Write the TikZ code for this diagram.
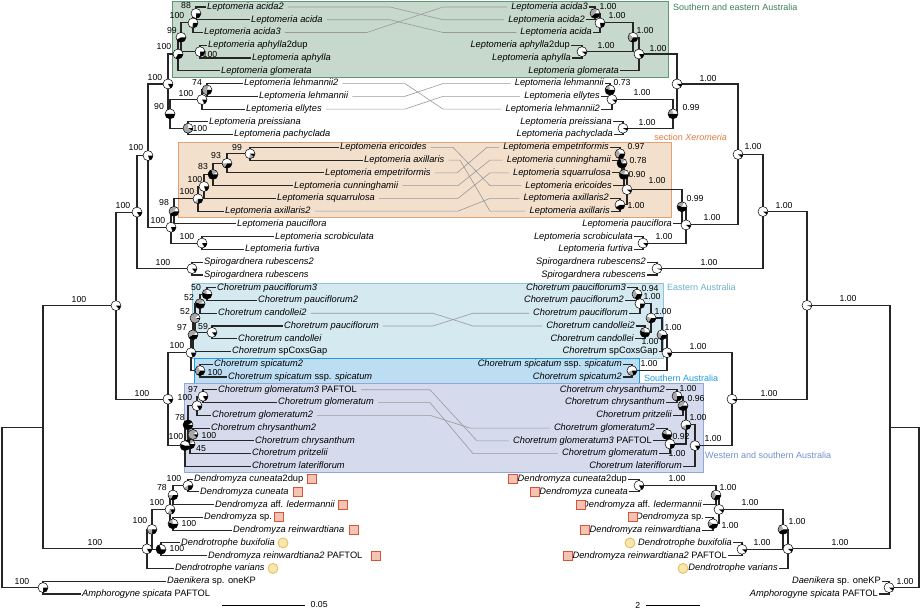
\documentclass[tikz,border=0pt]{standalone}
\usepackage{fontspec}
\setmainfont{Liberation Sans}
\usetikzlibrary{positioning}
\usetikzlibrary{arrows.meta}

\definecolor{segreen}{HTML}{C7D9CC}
\definecolor{segreenline}{HTML}{5E9870}
\definecolor{segreentext}{HTML}{3F7F55}
\definecolor{xerofill}{HTML}{F2E0CD}
\definecolor{xeroline}{HTML}{E2A173}
\definecolor{xerotext}{HTML}{E07C40}
\definecolor{eastfill}{HTML}{D5E9F0}
\definecolor{eastline}{HTML}{8CC6DC}
\definecolor{easttext}{HTML}{6BB1CE}
\definecolor{southfill}{HTML}{BDDDF3}
\definecolor{southline}{HTML}{1E9BE0}
\definecolor{westfill}{HTML}{D5DBEC}
\definecolor{westline}{HTML}{90A8D6}
\definecolor{westtext}{HTML}{7091CA}
\definecolor{dmzfill}{HTML}{F3C4B4}
\definecolor{dmzline}{HTML}{D6553A}
\definecolor{dtrfill}{HTML}{F8E5B4}
\definecolor{dtrline}{HTML}{E7BC4C}
\definecolor{piegray}{HTML}{A8A8A8}

% pie at a named coordinate: black degrees, gray degrees
\newcommand{\piemark}[3]{%
  \fill[white] (#1) circle[radius=5];
  \fill[black] (#1) -- ++(0:5) arc[start angle=0, end angle=#2, radius=5] -- cycle;
  \fill[piegray] (#1) -- ++(#2:5) arc[start angle=#2, end angle=#2+#3, radius=5] -- cycle;
  \draw[line width=0.5pt] (#1) circle[radius=5];}
% gray line between the two trees
\newcommand{\tangleline}[4]{%
  \draw[tangle] ([xshift=3pt]#1.east) -- (#1.east -| #3,0) -- (#2.west -| #4,0) -- ([xshift=-3pt]#2.west);}

\begin{document}
\begin{tikzpicture}[
        x=1pt, y=-1pt,
        leafL/.style={font=\fontsize{9.3}{11}\selectfont\itshape, inner sep=1pt, anchor=west, text height=6.8pt, text depth=2pt},
        leafR/.style={leafL, anchor=east},
        bs/.style={font=\fontsize{8.7}{10}\selectfont, inner sep=0.5pt},
        branch/.style={line width=1.1pt, black!85},
        tangle/.style={line width=0.6pt, black!40},
        region/.style={line width=0.8pt},
        regionlabel/.style={font=\fontsize{9}{11}\selectfont, anchor=west, inner sep=0pt},
        dmz/.style={rectangle, draw=dmzline, fill=dmzfill, minimum size=9pt, inner sep=0pt, line width=0.8pt},
        dtr/.style={circle, draw=dtrline, fill=dtrfill, minimum size=10pt, inner sep=0pt, line width=0.8pt},
        scalebar/.style={line width=0.8pt}
    ]
        \useasboundingbox (0,0) rectangle (922,609);

        % Regions
        \draw[region, fill=segreen, draw=segreenline] (172,1) rectangle (668,77);
        \draw[region, fill=xerofill, draw=xeroline] (178,142) rectangle (671,217);
        \draw[region, fill=eastfill, draw=eastline] (192,283) rectangle (663,358);
        \draw[region, fill=southfill, draw=southline] (194,358) rectangle (639,383);
        \draw[region, fill=westfill, draw=westline] (184,383) rectangle (703,472);
        \node[regionlabel, text=segreentext] (se) at (673,7) {Southern and eastern Australia};
        \node[regionlabel, text=xerotext, anchor=east] (xero) at (727,137) {section \textit{Xeromeria}};
        \node[regionlabel, text=easttext] (ea) at (667,287) {Eastern Australia};
        \node[regionlabel, text=southline] (sa) at (644,378) {Southern Australia};
        \node[regionlabel, text=westtext] (wsa) at (705,455) {Western and southern Australia};

        % Left tree: leaves
        \foreach \i/\x/\t in {0/206/Leptomeria acida2, 1/250/Leptomeria acida, 2/203/Leptomeria acida3,
            3/207/{Leptomeria aphylla\textup{2dup}}, 4/251/Leptomeria aphylla, 5/220/Leptomeria glomerata,
            6/243/Leptomeria lehmannii2, 7/258/Leptomeria lehmannii, 8/245/Leptomeria ellytes,
            9/208/Leptomeria preissiana, 10/233/Leptomeria pachyclada, 11/339/Leptomeria ericoides,
            12/363/Leptomeria axillaris, 13/324/Leptomeria empetriformis, 14/293/Leptomeria cunninghamii,
            15/276/Leptomeria squarrulosa, 16/224/Leptomeria axillaris2, 17/236/Leptomeria pauciflora,
            18/274/Leptomeria scrobiculata, 19/244/Leptomeria furtiva, 20/203/Spirogardnera rubescens2,
            21/203/Spirogardnera rubescens, 22/216/Choretrum pauciflorum3, 23/257/Choretrum pauciflorum2,
            24/217/Choretrum candollei2, 25/283/Choretrum pauciflorum, 26/237/Choretrum candollei,
            27/231/{Choretrum \textup{spCoxsGap}}, 28/213/Choretrum spicatum2,
            29/227/{Choretrum spicatum \textup{ssp.} spicatum}, 30/217/{Choretrum glomeratum3 \textup{PAFTOL}},
            31/277/Choretrum glomeratum, 32/211/Choretrum glomeratum2, 33/210/Choretrum chrysanthum2,
            34/254/Choretrum chrysanthum, 35/251/Choretrum pritzelii, 36/251/Choretrum lateriflorum,
            37/193/{Dendromyza cuneata\textup{2dup}}, 38/199/Dendromyza cuneata,
            39/214/{Dendromyza \textup{aff.} ledermannii}, 40/203/{Dendromyza \textup{sp.}},
            41/232/Dendromyza reinwardtiana, 42/180/Dendrotrophe buxifolia,
            43/207/{Dendromyza reinwardtiana2 \textup{PAFTOL}}, 44/174/Dendrotrophe varians,
            45/166/{Daenikera \textup{sp. oneKP}}, 46/81/{Amphorogyne spicata \textup{PAFTOL}}}
            \node[leafL] (L\i) at (\x,{7+12.76*\i}) {\t};

        % Right tree: leaves
        \foreach \i/\x/\t in {0/589/Leptomeria acida3, 1/586/Leptomeria acida2, 2/593/Leptomeria acida,
            3/571/{Leptomeria aphylla\textup{2dup}}, 4/572/Leptomeria aphylla, 5/620/Leptomeria glomerata,
            6/605/Leptomeria lehmannii, 7/601/Leptomeria ellytes, 8/601/Leptomeria lehmannii2,
            9/613/Leptomeria preissiana, 10/614/Leptomeria pachyclada, 11/610/Leptomeria empetriformis,
            12/612/Leptomeria cunninghamii, 13/612/Leptomeria squarrulosa, 14/613/Leptomeria ericoides,
            15/610/Leptomeria axillaris2, 16/611/Leptomeria axillaris, 17/673/Leptomeria pauciflora,
            18/634/Leptomeria scrobiculata, 19/634/Leptomeria furtiva, 20/647/Spirogardnera rubescens2,
            21/647/Spirogardnera rubescens, 22/627/Choretrum pauciflorum3, 23/625/Choretrum pauciflorum2,
            24/629/Choretrum pauciflorum, 25/636/Choretrum candollei2, 26/635/Choretrum candollei,
            27/659/{Choretrum \textup{spCoxsGap}}, 28/623/{Choretrum spicatum \textup{ssp.} spicatum},
            29/623/Choretrum spicatum2, 30/666/Choretrum chrysanthum2, 31/666/Choretrum chrysanthum,
            32/673/Choretrum pritzelii, 33/656/Choretrum glomeratum2, 34/653/{Choretrum glomeratum3 \textup{PAFTOL}},
            35/659/Choretrum glomeratum, 36/683/Choretrum lateriflorum,
            37/628/{Dendromyza cuneata\textup{2dup}}, 38/629/Dendromyza cuneata,
            39/703/{Dendromyza \textup{aff.} ledermannii}, 40/705/{Dendromyza \textup{sp.}},
            41/702/Dendromyza reinwardtiana, 42/733/Dendrotrophe buxifolia,
            43/728/{Dendromyza reinwardtiana2 \textup{PAFTOL}}, 44/779/Dendrotrophe varians,
            45/882/{Daenikera \textup{sp. oneKP}}, 46/879/{Amphorogyne spicata \textup{PAFTOL}}}
            \node[leafR] (R\i) at (\x,{7+12.76*\i}) {\t};

        % Tanglegram links
        \tangleline{L0}{R1}{390}{443}
        \tangleline{L1}{R2}{390}{443}
        \tangleline{L2}{R0}{367}{443}
        \tangleline{L6}{R8}{405}{443}
        \tangleline{L7}{R6}{405}{443}
        \tangleline{L8}{R7}{405}{443}
        \tangleline{L11}{R14}{453}{490}
        \tangleline{L12}{R16}{460}{490}
        \tangleline{L13}{R11}{457}{487}
        \tangleline{L14}{R12}{458}{490}
        \tangleline{L15}{R13}{458}{490}
        \tangleline{L16}{R15}{458}{490}
        \tangleline{L24}{R25}{433}{473}
        \tangleline{L25}{R24}{433}{473}
        \tangleline{L30}{R34}{430}{477}
        \tangleline{L31}{R35}{430}{473}
        \tangleline{L32}{R33}{430}{470}

        % Left tree: inner nodes
        \foreach \n/\x/\y in {n88/196/13.38, nA100/193/22.95, nAph/200/51.66, n99/181/37.3, nLep100/178/54.05,
            nLeh74/207/89.94, nLeh100/202/99.51, nPre/188/128.22, n90/170/113.87, nTop/168/83.96,
            nX99/250/153.74, nX93/227/163.31, nX83/213/174.48, nX100b/204/186.44, nX100a/198/198.8,
            n98/174/211.36, nScr/202/243.06, nPau/171/227.21, nLepAll/148/155.59, nSpi/192/268.58, nLS/137/212.09,
            nCh50/207/294.1, nCh52a/200/303.67, nCh59/212/332.38, nCh52b/195/318.03, nCh97/193/334.78,
            nSpc/200/370.66, nChE/191/352.72, nW97/203/396.18, nW100/197/405.75, nChr/193/434.46,
            nW45/190/444.03, nW78/188/424.89, nChW/185/445.63, nCho/168/399.18, nSLC/116/305.64,
            nDc/188/485.5, nD78/173/495.07, nDsp/173/523.78, nD100/170/509.43, nBux/161/549.3,
            nD100c/152/529.37, nDen/147/548.9, nIn/43/427.27, nOut/43/587.58, nRoot/2/507.4}
            \coordinate (\n) at (\x,\y);

        % Right tree: inner nodes
        \foreach \n/\x/\y in {rA/595/13.38, rB/600/22.95, rAph/582/51.66, rC/633/37.3, rD/639/54.05,
            rLeh/610/89.94, rLeh2/612/99.51, rPre/623/128.22, rF/673/113.87, rE/677/83.96,
            rX97/620/153.74, rX78/622/163.31, rX90/624/174.48, rAx/620/204.78, rXcl/627/189.63,
            rX99/682/206.78, rScr/643/243.06, rPau/686/224.92, rG/738/154.44, rSpi/657/268.58, rH/763/211.51,
            rPau3/637/294.1, rPau2/640/303.67, rCand/645/332.38, rE1/651/318.03, rEast/662/334.78,
            rSpc/632/370.66, rK/667/352.72, rCh1/677/396.18, rCh2/683/405.75, rGl1/667/434.46,
            rGl2/670/444.03, rCG/686/424.89, rL/695/445.63, rJ/732/399.18, rI/807/305.34,
            rDc/639/485.5, rD1/716/495.07, rDsp/713/523.78, rD2/719/509.43, rBux/742/549.3,
            rD3/783/529.37, rD4/788/548.9, rM/890/427.12, rOut/889/587.58, rRoot/919/507.35}
            \coordinate (\n) at (\x,\y);

        % Left tree: branches
        \foreach \p/\c in {n88/L0.west, n88/L1.west, nA100/n88, nA100/L2.west, nAph/L3.west, nAph/L4.west,
            n99/nA100, n99/nAph, nLep100/n99, nLep100/L5.west, nLeh74/L6.west, nLeh74/L7.west,
            nLeh100/nLeh74, nLeh100/L8.west, nPre/L9.west, nPre/L10.west, n90/nLeh100, n90/nPre,
            nTop/nLep100, nTop/n90, nX99/L11.west, nX99/L12.west, nX93/nX99, nX93/L13.west,
            nX83/nX93, nX83/L14.west, nX100b/nX83, nX100b/L15.west, nX100a/nX100b, nX100a/L16.west,
            n98/nX100a, n98/L17.west, nScr/L18.west, nScr/L19.west, nPau/n98, nPau/nScr,
            nLepAll/nTop, nLepAll/nPau, nSpi/L20.west, nSpi/L21.west, nLS/nLepAll, nLS/nSpi,
            nCh50/L22.west, nCh50/L23.west, nCh52a/nCh50, nCh52a/L24.west, nCh59/L25.west, nCh59/L26.west,
            nCh52b/nCh52a, nCh52b/nCh59, nCh97/nCh52b, nCh97/L27.west, nSpc/L28.west, nSpc/L29.west,
            nChE/nCh97, nChE/nSpc, nW97/L30.west, nW97/L31.west, nW100/nW97, nW100/L32.west,
            nChr/L33.west, nChr/L34.west, nW45/nChr, nW45/L35.west, nW78/nW100, nW78/nW45,
            nChW/nW78, nChW/L36.west, nCho/nChE, nCho/nChW, nSLC/nLS, nSLC/nCho,
            nDc/L37.west, nDc/L38.west, nD78/nDc, nD78/L39.west, nDsp/L40.west, nDsp/L41.west,
            nD100/nD78, nD100/nDsp, nBux/L42.west, nBux/L43.west, nD100c/nD100, nD100c/nBux,
            nDen/nD100c, nDen/L44.west, nIn/nSLC, nIn/nDen, nOut/L45.west, nOut/L46.west,
            nRoot/nIn, nRoot/nOut}
            \draw[branch] (\p) |- (\c);

        % Right tree: branches
        \foreach \p/\c in {rA/R0.east, rA/R1.east, rB/rA, rB/R2.east, rAph/R3.east, rAph/R4.east,
            rC/rB, rC/rAph, rD/rC, rD/R5.east, rLeh/R6.east, rLeh/R7.east, rLeh2/rLeh, rLeh2/R8.east,
            rPre/R9.east, rPre/R10.east, rF/rLeh2, rF/rPre, rE/rD, rE/rF,
            rX97/R11.east, rX97/R12.east, rX78/rX97, rX78/R13.east, rX90/rX78, rX90/R14.east,
            rAx/R15.east, rAx/R16.east, rXcl/rX90, rXcl/rAx, rX99/rXcl, rX99/R17.east,
            rScr/R18.east, rScr/R19.east, rPau/rX99, rPau/rScr, rG/rE, rG/rPau,
            rSpi/R20.east, rSpi/R21.east, rH/rG, rH/rSpi,
            rPau3/R22.east, rPau3/R23.east, rPau2/rPau3, rPau2/R24.east, rCand/R25.east, rCand/R26.east,
            rE1/rPau2, rE1/rCand, rEast/rE1, rEast/R27.east, rSpc/R28.east, rSpc/R29.east, rK/rEast, rK/rSpc,
            rCh1/R30.east, rCh1/R31.east, rCh2/rCh1, rCh2/R32.east, rGl1/R33.east, rGl1/R34.east,
            rGl2/rGl1, rGl2/R35.east, rCG/rCh2, rCG/rGl2, rL/rCG, rL/R36.east, rJ/rK, rJ/rL, rI/rH, rI/rJ,
            rDc/R37.east, rDc/R38.east, rD1/rDc, rD1/R39.east, rDsp/R40.east, rDsp/R41.east,
            rD2/rD1, rD2/rDsp, rBux/R42.east, rBux/R43.east, rD3/rD2, rD3/rBux, rD4/rD3, rD4/R44.east,
            rM/rI, rM/rD4, rOut/R45.east, rOut/R46.east, rRoot/rM, rRoot/rOut}
            \draw[branch] (\p) |- (\c);

        % Pies
        \foreach \n/\b/\g in {n88/90/0, nA100/90/20, nAph/90/0, n99/150/0, nLep100/120/0, nTop/60/0,
            nLeh74/90/200, nLeh100/60/0, nPre/30/240, n90/180/0, nX99/40/60, nX93/120/60, nX83/250/80,
            nX100b/70/0, nX100a/90/40, n98/150/150, nScr/60/0, nPau/70/0, nLepAll/70/0, nSpi/50/0, nLS/60/0,
            nCh50/200/60, nCh52a/200/120, nCh52b/20/300, nCh59/50/0, nCh97/150/180, nSpc/120/120, nChE/70/0,
            nW97/60/0, nW100/60/0, nChr/40/280, nW45/280/40, nW78/330/0, nChW/200/0, nCho/50/0, nSLC/50/0,
            nDc/90/60, nD78/120/60, nDsp/200/60, nD100/60/60, nBux/250/0, nD100c/90/90, nDen/60/0, nOut/90/0,
            rA/140/160, rB/80/0, rAph/40/0, rC/120/100, rD/60/0, rLeh/200/60, rLeh2/40/0, rPre/30/0,
            rF/180/80, rE/40/0, rX97/120/120, rX78/250/60, rX90/200/90, rAx/150/0, rXcl/40/0, rX99/200/90,
            rScr/40/0, rPau/40/0, rG/40/0, rSpi/20/0, rH/40/0, rPau3/120/120, rPau2/90/0, rCand/200/60,
            rE1/120/80, rEast/120/100, rSpc/80/80, rK/60/0, rCh1/100/160, rCh2/160/140, rGl1/200/60,
            rGl2/90/0, rCG/90/60, rL/60/0, rJ/30/0, rI/20/0, rDc/60/0, rD1/120/120, rDsp/150/60,
            rD2/40/0, rBux/40/0, rD3/150/100, rD4/40/0, rOut/40/0}
            {\piemark{\n}{\b}{\g}}

        % Support values
        \foreach \n/\x/\y/\v in {n88/186/6/88, nA100/177/16/100, n99/172/31/99, nAph/210/55/100,
            nLep100/164/47/100, nTop/155/78/100, nLeh74/197/83/74, nLeh100/186/94/100, n90/159/107/90,
            nPre/200/129/100, nLepAll/136/148/100, nLS/123/206/100, nX99/237/148/99, nX93/216/156/93,
            nX83/203/167/83, nX100b/195/180/100, nX100a/187/192/100, n98/164/203/98, nPau/158/221/100,
            nScr/187/237/100, nSpi/163/263/100, nSLC/79/300/100, nCho/142/394/100, nCh50/196/288/50,
            nCh52a/189/298/52, nCh52b/185/312/52, nCh97/182/328/97, nCh59/203/327/59, nChE/177/346/100,
            nSpc/215/373/100, nW97/193/390/97, nW100/185/398/100, nW78/180/418/78, nChr/209/436/100,
            nChW/176/437/100, nW45/201/449/45, nDc/174/479/100, nD78/162/488/78, nD100/157/503/100,
            nDsp/189/524/100, nD100c/140/521/100, nBux/177/549/100, nDen/95/543/100, nOut/22/582/100,
            rA/608/7/1.00, rB/617/16/1.00, rAph/606/46/1.00, rC/645/31/1.00, rD/658/49/1.00,
            rLeh/622/83/0.73, rLeh2/642/93/1.00, rPre/647/123/1.00, rF/691/108/0.99, rE/708/79/1.00,
            rX97/636/147/0.97, rX78/638/161/0.78, rX90/637/175/0.90, rXcl/657/181/1.00, rAx/636/206/1.00,
            rX99/695/199/0.99, rPau/712/218/1.00, rScr/664/237/1.00, rG/753/147/1.00, rSpi/709/263/1.00,
            rH/784/206/1.00, rPau3/650/289/0.94, rPau2/652/297/1.00, rE1/663/312/1.00, rEast/673/328/1.00,
            rCand/650/342/1.00, rSpc/649/364/1.00, rK/698/347/1.00, rJ/769/394/1.00, rI/848/299/1.00,
            rCh1/688/389/1.00, rCh2/696/399/0.96, rCG/698/418/1.00, rGl1/681/437/0.92, rL/713/439/1.00,
            rGl2/677/454/1.00, rDc/677/479/1.00, rD1/728/488/1.00, rD2/750/503/1.00, rDsp/730/526/1.00,
            rD3/797/522/1.00, rBux/762/543/1.00, rD4/840/543/1.00, rOut/905/582/1.00}
            \node[bs] (b\n) at (\x,\y) {\v};

        % Dendromyza and Dendrotrophe markers
        \foreach \i/\x in {37/312, 38/298, 39/343, 40/279, 41/354, 43/376}
            \node[dmz] (sqL\i) at (\x,{7+12.76*\i}) {};
        \foreach \i/\x in {37/513, 38/535, 39/581, 40/633, 41/585, 43/568}
            \node[dmz] (sqR\i) at (\x,{7+12.76*\i}) {};
        \foreach \i/\x in {42/283, 44/273}
            \node[dtr] (ciL\i) at (\x,{7+12.76*\i}) {};
        \foreach \i/\x in {42/630, 44/683}
            \node[dtr] (ciR\i) at (\x,{7+12.76*\i}) {};

        % Scale bars
        \coordinate (sbL1) at (222,605);
        \coordinate (sbL2) at (305,605);
        \draw[scalebar] (sbL1) -- (sbL2);
        \node[bs, right=5pt of sbL2] (sbLtext) {0.05};
        \coordinate (sbR1) at (646,605);
        \coordinate (sbR2) at (700,605);
        \draw[scalebar] (sbR1) -- (sbR2);
        \node[bs, left=5pt of sbR1] (sbRtext) {2};
    \end{tikzpicture}
\end{document}
